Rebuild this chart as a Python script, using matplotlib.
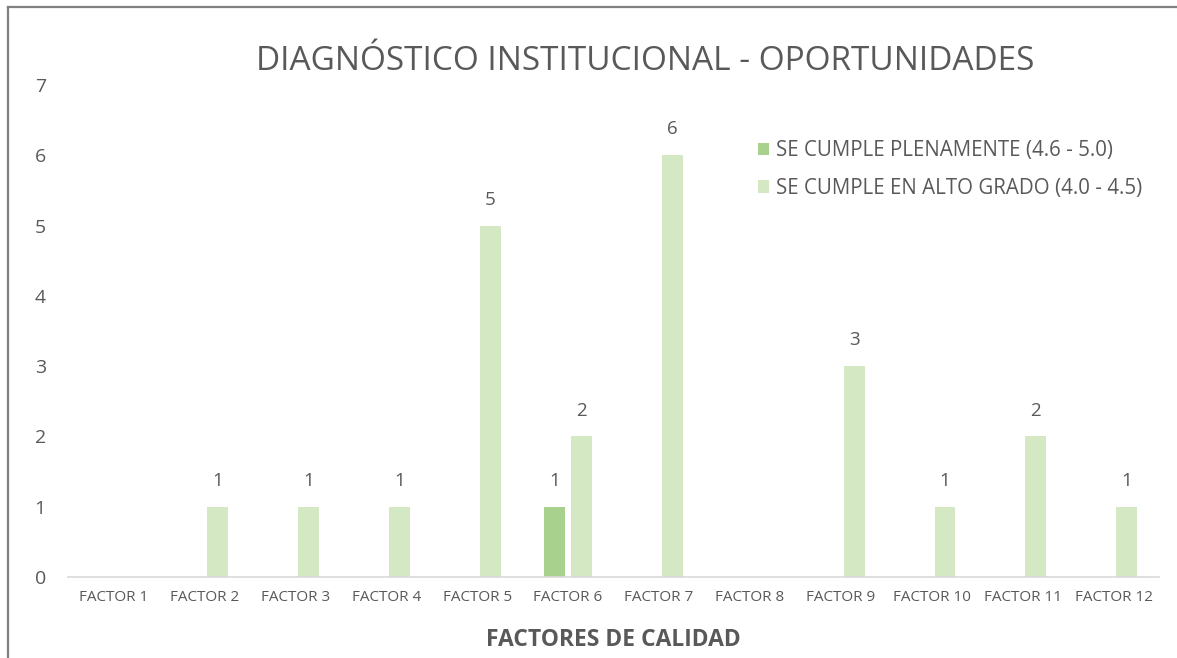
import matplotlib.pyplot as plt
import numpy as np
from matplotlib.lines import Line2D

plt.rcParams['font.family'] = ['Open Sans', 'DejaVu Sans']

factores = ['FACTOR 1', 'FACTOR 2', 'FACTOR 3', 'FACTOR 4', 'FACTOR 5', 'FACTOR 6',
            'FACTOR 7', 'FACTOR 8', 'FACTOR 9', 'FACTOR 10', 'FACTOR 11', 'FACTOR 12']
plenamente = [0, 0, 0, 0, 0, 1, 0, 0, 0, 0, 0, 0]
alto_grado = [0, 1, 1, 1, 5, 2, 6, 0, 3, 1, 2, 1]
series_names = ['SE CUMPLE PLENAMENTE (4.6 - 5.0)', 'SE CUMPLE EN ALTO GRADO (4.0 - 4.5)']

gray = '#595959'
c1 = '#A9D18E'
c2 = '#D5E8C4'

fig = plt.figure(figsize=(11.77, 6.58), dpi=100)
ax = fig.add_axes([0.0578, 0.123, 0.927, 0.748])

x = np.arange(len(factores))
w = 0.23
off = 0.145
b1 = ax.bar(x - off, plenamente, w, color=c1, label=series_names[0])
b2 = ax.bar(x + off, alto_grado, w, color=c2, label=series_names[1])

for bars, vals in [(b1, plenamente), (b2, alto_grado)]:
    for r, v in zip(bars, vals):
        if v:
            ax.text(r.get_x() + r.get_width() / 2, v + 0.24, str(v), ha='center', va='bottom',
                    fontsize=13.5, color=gray)

ax.set_xlim(-0.5, len(factores) - 0.5)
ax.set_ylim(0, 7)
ax.set_yticks(range(8))
ax.set_xticks(x)
ax.set_xticklabels(factores, fontsize=11, color=gray)
ax.tick_params(axis='y', length=0, pad=16, labelsize=14, labelcolor=gray)
ax.tick_params(axis='x', length=0, pad=9)
for s in ['top', 'right', 'left']:
    ax.spines[s].set_visible(False)
ax.spines['bottom'].set_color('#D9D9D9')
ax.spines['bottom'].set_linewidth(1.2)

ax.set_xlabel('FACTORES DE CALIDAD', fontsize=16.5, fontweight='bold', color=gray, labelpad=17)
fig.text(0.548, 0.907, 'DIAGNÓSTICO INSTITUCIONAL - OPORTUNIDADES', ha='center', va='center',
         fontsize=24, color=gray)

leg = ax.legend(loc='upper left', bbox_to_anchor=(0.637, 0.799), bbox_transform=fig.transFigure,
                frameon=False, fontsize=14.8, handlelength=0.55, handleheight=0.55,
                handletextpad=0.35, labelspacing=0.8, borderaxespad=0)
for t in leg.get_texts():
    t.set_color(gray)

# frame remnant of the embedded chart
fig.add_artist(Line2D([0.0072, 1.0], [0.989, 0.989], color='#808080', lw=1.6, transform=fig.transFigure))
fig.add_artist(Line2D([0.0072, 0.0072], [0.0, 0.989], color='#808080', lw=1.6, transform=fig.transFigure))

fig.savefig('out.png', dpi=100)
